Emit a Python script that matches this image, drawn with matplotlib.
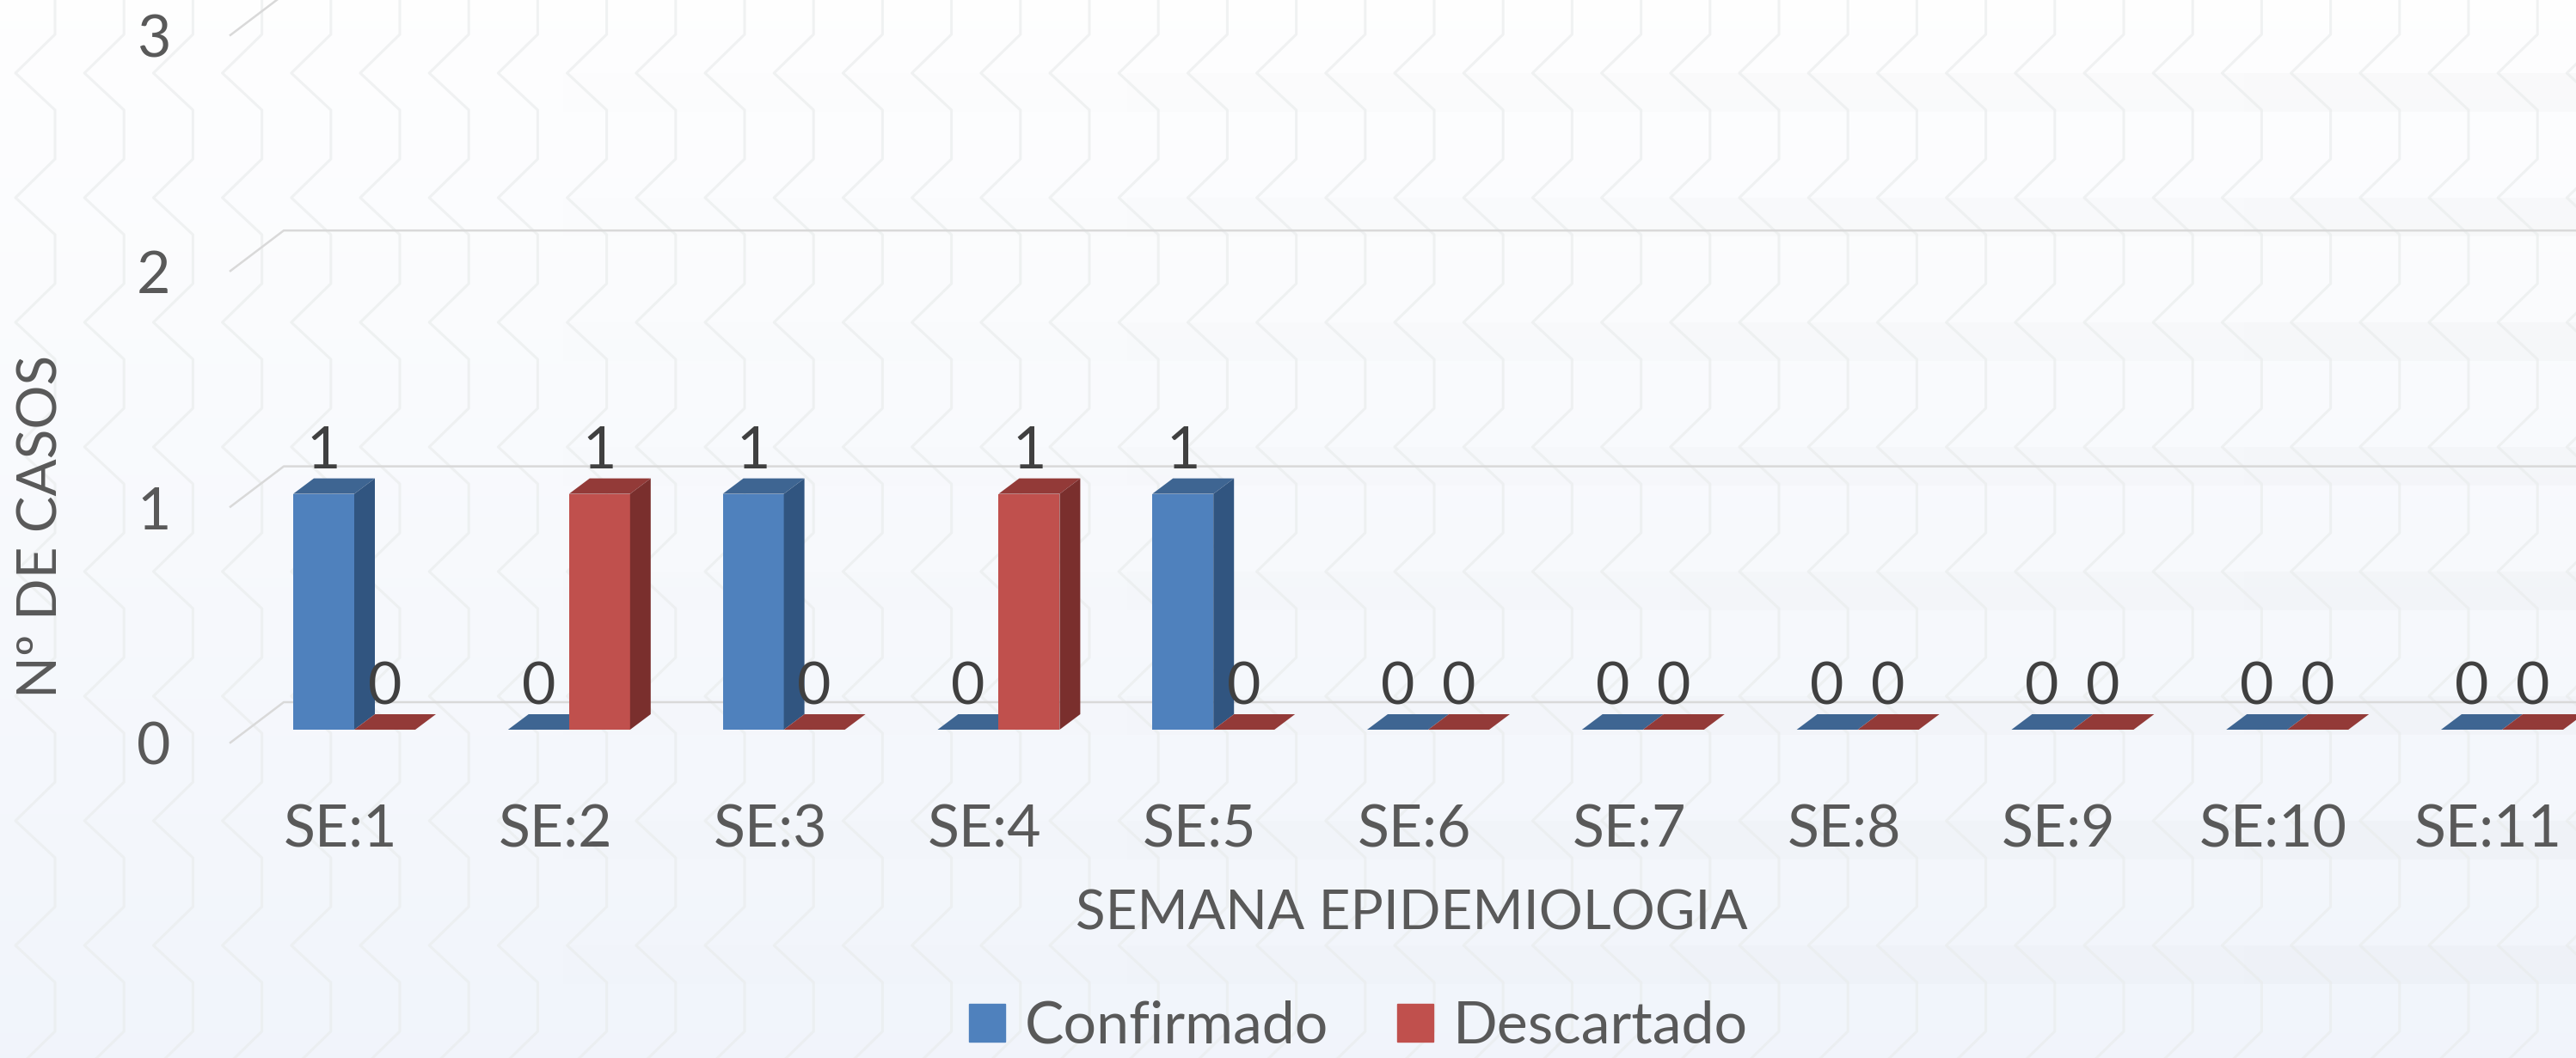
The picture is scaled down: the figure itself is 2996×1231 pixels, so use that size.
import matplotlib
matplotlib.use("Agg")
import matplotlib.pyplot as plt
import matplotlib.patches as mpatches
import numpy as np

plt.rcParams['font.family'] = ['Lato', 'DejaVu Sans']

WEEKS = ['SE:1', 'SE:2', 'SE:3', 'SE:4', 'SE:5', 'SE:6', 'SE:7', 'SE:8', 'SE:9', 'SE:10', 'SE:11']
CONFIRMADO = [1, 0, 1, 0, 1, 0, 0, 0, 0, 0, 0]
DESCARTADO = [0, 1, 0, 1, 0, 0, 0, 0, 0, 0, 0]
Y_TICKS = [0, 1, 2, 3]

W, H = 2996, 1231
BASE_PX, UNIT_PX = 849, 274.4    # y pixel of value 0, pixels per case
FIRST_PX, STEP_PX = 412, 249.8   # x pixel of first category, pixels per category

BAR_W = 71 / STEP_PX
DEPTH_X, DEPTH_Y = 24 / STEP_PX, 18 / UNIT_PX

BLUE = ("#4f81bd", "#3e6592", "#315580")
RED = ("#c0504d", "#933a38", "#7a2f2d")
TEXT = "#595959"
LABEL = "#404040"
GRID = "#d9d9d9"


def px_x(p):
    return (p - FIRST_PX) / STEP_PX


def px_y(p):
    return (BASE_PX - p) / UNIT_PX


def draw_bars(ax, xs, values, colours):
    front, top, side = colours
    ax.bar(xs, values, width=BAR_W, color=front, align='edge', linewidth=0, zorder=3)
    for x, v in zip(xs, values):
        ax.fill([x, x + BAR_W, x + BAR_W + DEPTH_X, x + DEPTH_X],
                [v, v, v + DEPTH_Y, v + DEPTH_Y], color=top, lw=0, zorder=3)
        if v > 0:
            ax.fill([x + BAR_W, x + BAR_W + DEPTH_X, x + BAR_W + DEPTH_X, x + BAR_W],
                    [0, DEPTH_Y, v + DEPTH_Y, v], color=side, lw=0, zorder=3)
        ax.text(x + BAR_W / 2, v + 49 / UNIT_PX, str(v), color=LABEL, fontsize=49,
                ha='center', va='center', zorder=5)


def draw_background(ax):
    extent = (px_x(0), px_x(W), px_y(H), px_y(0))
    # page gradient
    grad = np.linspace(0, 1, 256).reshape(-1, 1, 1)
    rgb = np.array([0.997, 0.997, 0.999]) * (1 - grad) + np.array([0.945, 0.96, 0.985]) * grad
    ax.imshow(rgb, extent=extent, aspect='auto', zorder=0)

    # faint horizontal bands, only visible towards the right
    fade = np.zeros((1, 256, 4))
    fade[..., 3] = np.linspace(0, 0.018, 256)
    for row in range(0, 8):
        mid = 85 + 145 * row
        ax.imshow(fade, extent=(px_x(0), px_x(W), px_y(mid + 45), px_y(mid)),
                  aspect='auto', zorder=0.5)

    # chevron pattern
    for col in range(-1, 39):
        left = px_x(18 + 80.2 * col)
        right = px_x(64 + 80.2 * col)
        xs, ys = [], []
        for row in range(-1, 9):
            mid = 85 + 145 * row
            xs += [right, left, right]
            ys += [px_y(mid - 45), px_y(mid), px_y(mid + 43)]
        ax.plot(xs, ys, color="#e9ecec", lw=2.2, alpha=0.65, zorder=1)


fig = plt.figure(figsize=(W / 100, H / 100), dpi=100)
ax = fig.add_axes([0, 0, 1, 1])
draw_background(ax)
ax.set_xlim(px_x(0), px_x(W))
ax.set_ylim(px_y(H), px_y(0))
ax.set_axis_off()

# gridlines: back wall and the short floor-side stub
for t in Y_TICKS:
    ax.plot([px_x(268), px_x(330), px_x(W)],
            [t + px_y(864), t + px_y(817), t + px_y(817)],
            color=GRID, lw=1.8, zorder=2)
    ax.text(px_x(179), t + px_y(871), str(t), color=TEXT, fontsize=49,
            ha='center', va='center', zorder=5)

x = np.arange(len(WEEKS))
draw_bars(ax, x - BAR_W, CONFIRMADO, BLUE)
draw_bars(ax, x, DESCARTADO, RED)

for i, w in zip(x, WEEKS):
    ax.text(i - 16 / STEP_PX, px_y(966), w, color=TEXT, fontsize=49,
            ha='center', va='center', zorder=5)

ax.text(px_x(1642), px_y(1064), 'SEMANA EPIDEMIOLOGIA', color=TEXT, fontsize=46,
        ha='center', va='center', zorder=5)
ax.text(px_x(49), px_y(612), 'Nº DE CASOS', color=TEXT, fontsize=46, rotation=90,
        ha='center', va='center', zorder=5)

handles = [mpatches.Patch(color=BLUE[0], label='Confirmado'),
           mpatches.Patch(color=RED[0], label='Descartado')]
leg = ax.legend(handles=handles, loc='center', ncol=2, frameon=False, fontsize=49,
                bbox_to_anchor=(1580 / W, 1 - 1195 / H), handlelength=0.62, handleheight=0.62,
                handletextpad=0.33, columnspacing=1.18, labelcolor=TEXT)
leg.set_zorder(5)

fig.savefig('out.png', dpi=100)
